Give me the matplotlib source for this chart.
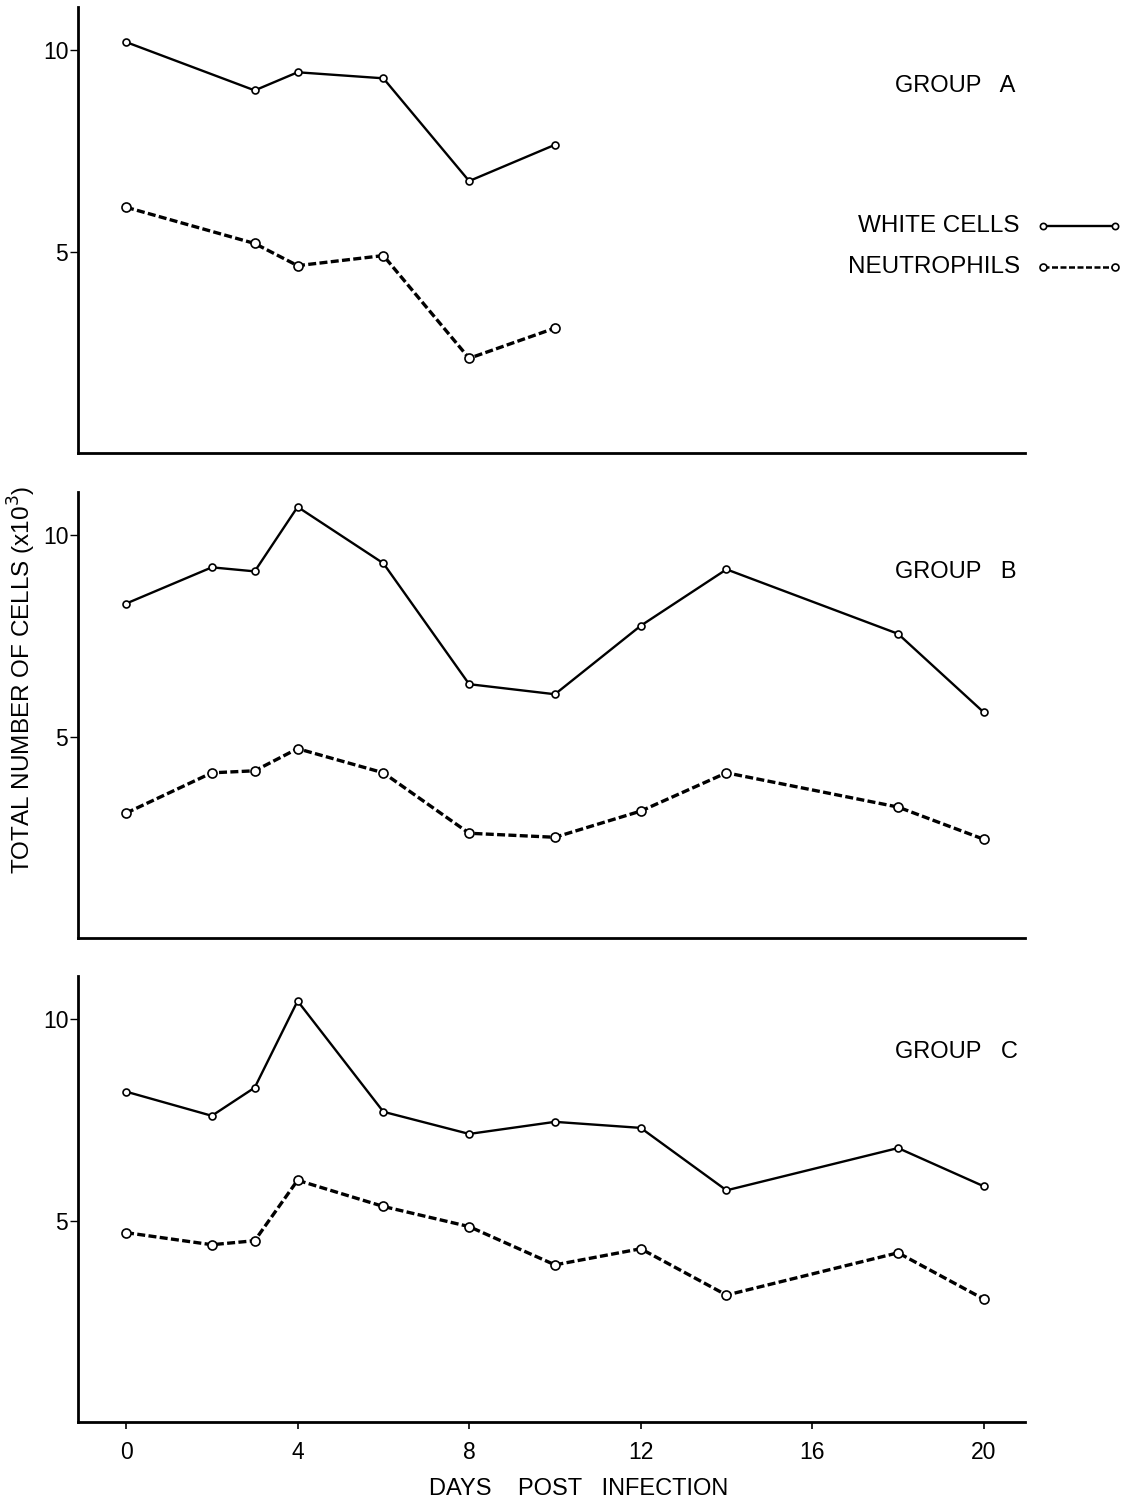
import matplotlib
matplotlib.use("Agg")
import matplotlib.pyplot as plt

plt.rcParams['font.family'] = ['Liberation Sans', 'DejaVu Sans']

# Days post infection and cell counts (x10^3)
days_a = [0, 3, 4, 6, 8, 10]
white_a = [10.2, 9.0, 9.45, 9.3, 6.75, 7.65]
neut_a = [6.1, 5.2, 4.65, 4.9, 2.35, 3.1]

days_b = [0, 2, 3, 4, 6, 8, 10, 12, 14, 18, 20]
white_b = [8.3, 9.2, 9.1, 10.7, 9.3, 6.3, 6.05, 7.75, 9.15, 7.55, 5.6]
neut_b = [3.1, 4.1, 4.15, 4.7, 4.1, 2.6, 2.5, 3.15, 4.1, 3.25, 2.45]

days_c = [0, 2, 3, 4, 6, 8, 10, 12, 14, 18, 20]
white_c = [8.2, 7.6, 8.3, 10.45, 7.7, 7.15, 7.45, 7.3, 5.75, 6.8, 5.85]
neut_c = [4.7, 4.4, 4.5, 6.0, 5.35, 4.85, 3.9, 4.3, 3.15, 4.2, 3.05]

group_labels = ["GROUP   A", "GROUP   B", "GROUP   C"]
x_ticks = [0, 4, 8, 12, 16, 20]
y_ticks = [5, 10]

W, H = 1123, 1506
fig = plt.figure(figsize=(W / 100, H / 100), dpi=100)

solid_kw = dict(color='black', lw=1.7, linestyle='-', marker='o', ms=5,
                mfc='white', mec='black', mew=1.2)
dash_kw = dict(color='black', lw=2.4, linestyle=(0, (2.4, 1.0)), marker='o',
               ms=6.5, mfc='white', mec='black', mew=1.2)

panels = [
    (days_a, white_a, neut_a, 453),
    (days_b, white_b, neut_b, 938),
    (days_c, white_c, neut_c, 1422),
]
left_px, right_px = 78, 1025
height_px = 446
axes = []
for i, (d, wc, nc, y0px) in enumerate(panels):
    ax = fig.add_axes([left_px / W, 1 - y0px / H, (right_px - left_px) / W, height_px / H])
    ax.plot(d, wc, **solid_kw)
    ax.plot(d, nc, **dash_kw)
    ax.set_xlim(-1.12, 20.96)
    ax.set_ylim(0, 11.07)
    for s in ('top', 'right'):
        ax.spines[s].set_visible(False)
    for s in ('left', 'bottom'):
        ax.spines[s].set_linewidth(2.0)
    ax.set_yticks(y_ticks)
    ax.set_yticklabels([str(v) for v in y_ticks], fontsize=16.5)
    ax.tick_params(axis='y', direction='out', length=6, width=1.0, pad=1)
    if i < 2:
        ax.set_xticks([])
    else:
        ax.set_xticks(x_ticks)
        ax.set_xticklabels([str(v) for v in x_ticks], fontsize=16.5)
        ax.tick_params(axis='x', direction='out', length=5, width=1.2, pad=9)
    axes.append(ax)

# Group titles
for lbl, ypx in zip(group_labels, [86, 572, 1052]):
    fig.text(895 / W, 1 - ypx / H, lbl, fontsize=17, ha='left', va='center')

# Key for the two series
fig.text(1020 / W, 1 - 226 / H, "WHITE CELLS", fontsize=17.5, ha='right', va='center')
fig.text(1020 / W, 1 - 267 / H, "NEUTROPHILS", fontsize=17.5, ha='right', va='center')
kx0, kx1 = 1043 / W, 1115 / W
fig.add_artist(plt.Line2D([kx0, kx1], [1 - 226 / H] * 2, transform=fig.transFigure,
                          **{**solid_kw, 'ms': 4.5}))
fig.add_artist(plt.Line2D([kx0, kx1], [1 - 267 / H] * 2, transform=fig.transFigure,
                          **{**dash_kw, 'lw': 1.8, 'ms': 5}))

# Axis titles
fig.text(22 / W, 1 - 680 / H, "TOTAL NUMBER OF CELLS (x10$^{3}$)", fontsize=17.5,
         rotation=90, ha='center', va='center')
fig.text(579 / W, 1 - 1489 / H, "DAYS    POST   INFECTION", fontsize=17,
         ha='center', va='center')

fig.savefig("out.png", dpi=100, facecolor='white')
